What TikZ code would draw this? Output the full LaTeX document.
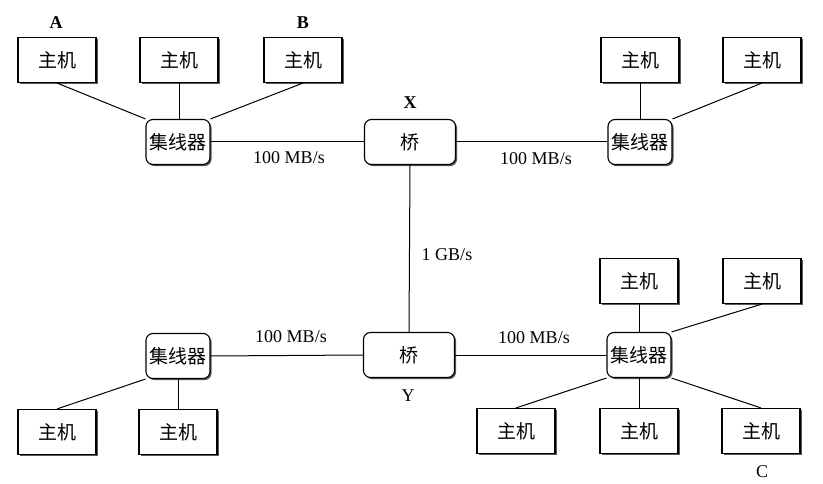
\documentclass[tikz,border=0pt]{standalone}
\usepackage{fontspec}
\setmainfont{Liberation Serif}
\newfontfamily\cjk{Noto Sans CJK SC}
\usetikzlibrary{shadows}
\begin{document}
\begin{tikzpicture}[x=1pt,y=-1pt,
  box/.style={draw, line width=1.1pt, fill=white,
    drop shadow={shadow xshift=1.6pt, shadow yshift=-1.6pt, fill=black!65, opacity=1},
    font=\cjk\fontsize{19}{19}\selectfont, inner sep=0pt},
  host/.style={box, minimum width=78pt, minimum height=45pt},
  hub/.style={box, rounded corners=7pt, minimum width=64pt, minimum height=45pt},
  bridge/.style={box, rounded corners=7pt, minimum width=91pt, minimum height=45pt},
  link/.style={line width=1pt},
  lbl/.style={font=\fontsize{18}{18}\selectfont, inner sep=0pt},
  tag/.style={font=\fontsize{18}{18}\selectfont, inner sep=0pt},
]
\useasboundingbox (0,0) rectangle (823,484);

% hosts
\node[host] (h1) at (57,60) {主机};
\node[host] (h2) at (179,60) {主机};
\node[host] (h3) at (303,60) {主机};
\node[host] (h4) at (640,60) {主机};
\node[host] (h5) at (762,60) {主机};
\node[host] (h6) at (639,281) {主机};
\node[host] (h7) at (762,281) {主机};
\node[host] (h8) at (57,432) {主机};
\node[host] (h9) at (178,432) {主机};
\node[host] (h10) at (516,431) {主机};
\node[host] (h11) at (639,431) {主机};
\node[host] (h12) at (761,431) {主机};

% hubs
\node[hub] (u1) at (178,142) {集线器};
\node[hub] (u2) at (640,142) {集线器};
\node[hub] (u3) at (178,356) {集线器};
\node[hub] (u4) at (639,355) {集线器};

% bridges
\node[bridge] (bx) at (410,142) {桥};
\node[bridge] (by) at (409,355) {桥};

% labels
\node[tag, font=\bfseries\fontsize{18}{18}\selectfont] (la) at (56,23) {A};
\node[tag, font=\bfseries\fontsize{18}{18}\selectfont] (lb) at (303,23) {B};
\node[tag, font=\bfseries\fontsize{18}{18}\selectfont] (lx) at (410,103) {X};
\node[tag] (ly) at (408,396) {Y};
\node[tag] (lc) at (762,472) {C};

\node[lbl] (s1) at (289,158) {100 MB/s};
\node[lbl] (s2) at (536,159) {100 MB/s};
\node[lbl] (s3) at (291,337) {100 MB/s};
\node[lbl] (s4) at (534,338) {100 MB/s};
\node[lbl] (s5) at (447,255) {1 GB/s};

% links
\draw[link] (h1.south) -- (u1.north west);
\draw[link] (h2.south) -- (h2.south |- u1.north);
\draw[link] (h3.south) -- (u1.north east);
\draw[link] (h4.south) -- (h4.south |- u2.north);
\draw[link] (h5.south) -- (u2.north east);
\draw[link] (u1.east) -- (bx.west);
\draw[link] (bx.east) -- (u2.west);
\draw[link] (bx.south) -- (by.north);
\draw[link] (by.west) -- (u3.east);
\draw[link] (by.east) -- (u4.west);
\draw[link] (u3.south west) -- (h8.north);
\draw[link] (u3.south) -- (u3.south |- h9.north);
\draw[link] (h6.south) -- (h6.south |- u4.north);
\draw[link] (h7.south) -- (u4.north east);
\draw[link] (u4.south west) -- (h10.north);
\draw[link] (u4.south) -- (u4.south |- h11.north);
\draw[link] (u4.south east) -- (h12.north);
\end{tikzpicture}
\end{document}
